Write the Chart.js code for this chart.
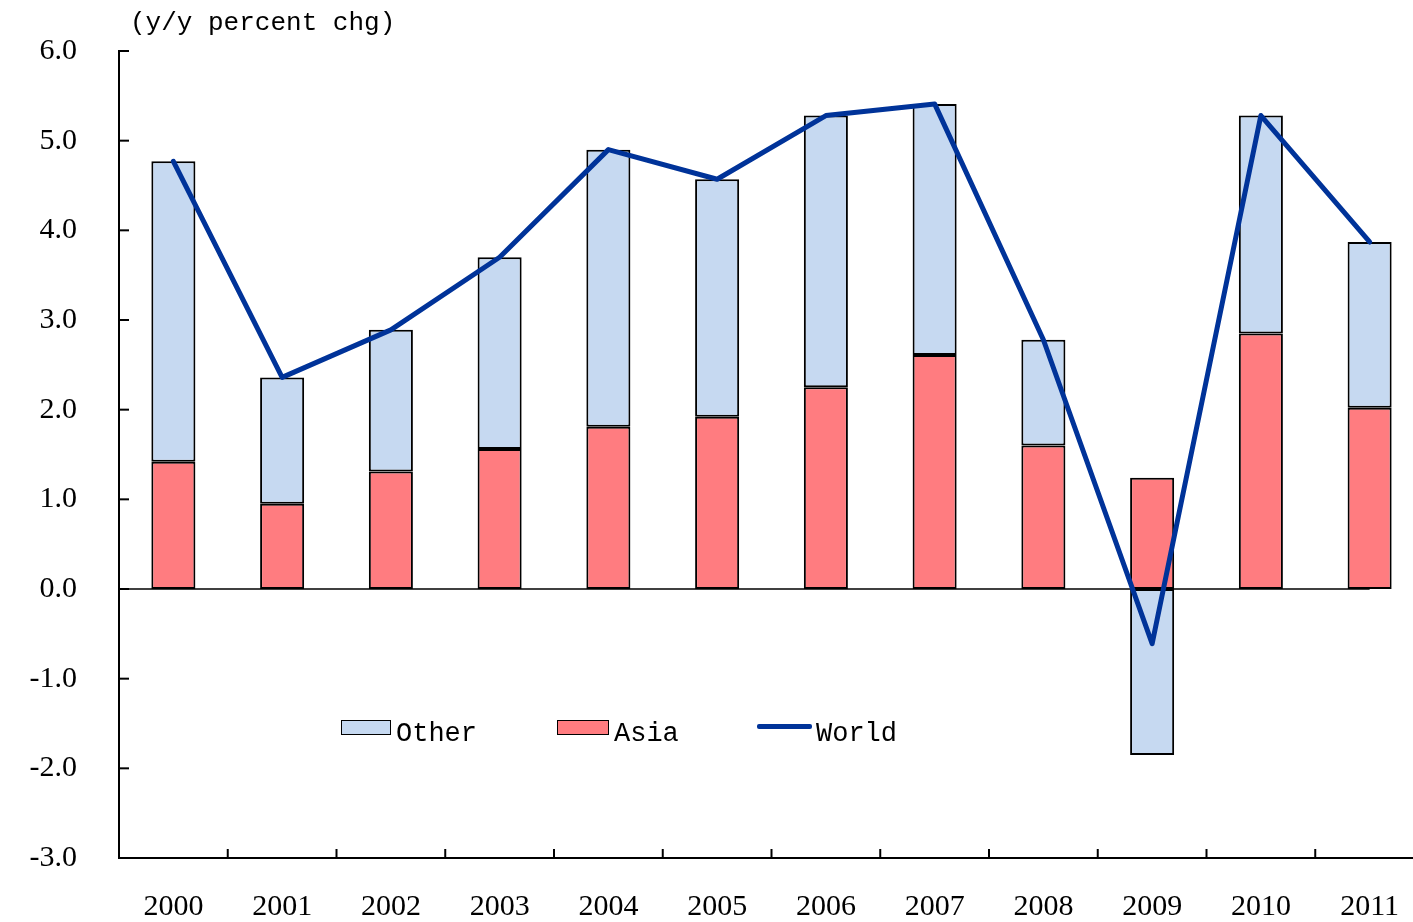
<!DOCTYPE html>
<html>
<head>
<meta charset="utf-8">
<script src="https://cdn.jsdelivr.net/npm/chart.js@4.4.1/dist/chart.umd.min.js"></script>
<style>
  html, body { margin: 0; padding: 0; background: #fff; overflow: hidden; }
  #wrap { position: relative; width: 1413px; height: 922px; overflow: hidden; }
  #chart { position: absolute; left: 0; top: 0; }
  .unit { position: absolute; left: 130px; top: 8px; font: 26px "Liberation Mono", monospace; color: #000; white-space: pre; }
  .legend { position: absolute; top: 719px; font: 27px "Liberation Mono", monospace; color: #000; }
  .legend span { position: absolute; white-space: pre; }
  .box { position: absolute; height: 13px; border: 1.5px solid #000; }
  .ln { position: absolute; height: 5px; border-radius: 2px; background: #003399; }
</style>
</head>
<body>
<div id="wrap">
  <canvas id="chart" width="1424" height="922"></canvas>
  <div class="unit">(y/y percent chg)</div>
  <div class="legend">
    <div class="box" style="left:341px; top:1px; width:48px; background:#C6D9F1;"></div>
    <span style="left:396px; top:0px;">Other</span>
    <div class="box" style="left:557px; top:1px; width:50px; background:#FF7C80;"></div>
    <span style="left:614px; top:0px;">Asia</span>
    <div class="ln" style="left:757px; top:5px; width:55px;"></div>
    <span style="left:816px; top:0px;">World</span>
  </div>
</div>
<script>
const years = ['2000', '2001', '2002', '2003', '2004', '2005', '2006', '2007', '2008', '2009', '2010', '2011'];
const asia = [1.42, 0.95, 1.31, 1.56, 1.81, 1.92, 2.25, 2.61, 1.60, 1.24, 2.85, 2.02];
const other = [3.35, 1.41, 1.58, 2.14, 3.09, 2.65, 3.03, 2.80, 1.18, -1.85, 2.43, 1.85];
const world = [4.77, 2.36, 2.89, 3.70, 4.90, 4.57, 5.28, 5.41, 2.78, -0.61, 5.28, 3.87];
const yTicks = [-3, -2, -1, 0, 1, 2, 3, 4, 5, 6];

// 零线 + 向内的刻度线
const axisMarks = {
  id: 'axisMarks',
  beforeDatasetsDraw(chart) {
    const { ctx, chartArea, scales: { x, y } } = chart;
    ctx.save();
    ctx.strokeStyle = '#000';
    ctx.lineWidth = 1.5;
    const y0 = y.getPixelForValue(0);
    ctx.beginPath();
    ctx.moveTo(chartArea.left, y0);
    ctx.lineTo(x.getPixelForValue(years.length - 1), y0);
    ctx.stroke();
    ctx.lineWidth = 2;
    yTicks.forEach(v => {
      const py = y.getPixelForValue(v);
      ctx.beginPath();
      ctx.moveTo(chartArea.left, py);
      ctx.lineTo(chartArea.left + 10, py);
      ctx.stroke();
    });
    for (let i = 0; i < years.length - 1; i++) {
      const px = (x.getPixelForValue(i) + x.getPixelForValue(i + 1)) / 2;
      ctx.beginPath();
      ctx.moveTo(px, chartArea.bottom);
      ctx.lineTo(px, chartArea.bottom - 9);
      ctx.stroke();
    }
    ctx.restore();
  }
};

new Chart(document.getElementById('chart'), {
  data: {
    labels: years,
    datasets: [
      {
        type: 'line',
        label: 'World',
        data: world,
        borderColor: '#003399',
        borderWidth: 5,
        pointRadius: 0,
        tension: 0,
        borderJoinStyle: 'round',
        borderCapStyle: 'round',
        stack: 'line',
        order: 0
      },
      {
        type: 'bar',
        label: 'Asia',
        data: asia,
        backgroundColor: '#FF7C80',
        borderColor: '#000',
        borderWidth: 2,
        borderSkipped: false,
        barPercentage: 0.405,
        categoryPercentage: 1,
        stack: 'bars',
        order: 1
      },
      {
        type: 'bar',
        label: 'Other',
        data: other,
        backgroundColor: '#C6D9F1',
        borderColor: '#000',
        borderWidth: 2,
        borderSkipped: false,
        barPercentage: 0.405,
        categoryPercentage: 1,
        stack: 'bars',
        order: 1
      }
    ]
  },
  options: {
    responsive: false,
    animation: false,
    layout: { padding: { top: 51, right: 0, bottom: 0, left: 0 } },
    plugins: {
      legend: { display: false },
      tooltip: { enabled: false }
    },
    scales: {
      x: {
        stacked: true,
        afterFit: s => { s.height = 64; s.paddingLeft = 0; s.paddingRight = 0; },
        grid: { display: false, drawTicks: false },
        border: { display: true, color: '#000', width: 2 },
        ticks: { color: '#000', padding: 31, font: { family: 'Liberation Serif', size: 30 }, maxRotation: 0 }
      },
      y: {
        stacked: true,
        min: -3,
        max: 6,
        afterFit: s => { s.width = 119; s.paddingTop = 0; s.paddingBottom = 0; },
        afterBuildTicks: s => { s.ticks = yTicks.map(v => ({ value: v })); },
        grid: { display: false, drawTicks: false },
        border: { display: true, color: '#000', width: 2 },
        ticks: { color: '#000', padding: 42, font: { family: 'Liberation Serif', size: 30 }, callback: v => v.toFixed(1) }
      }
    }
  },
  plugins: [axisMarks]
});
</script>
</body>
</html>
